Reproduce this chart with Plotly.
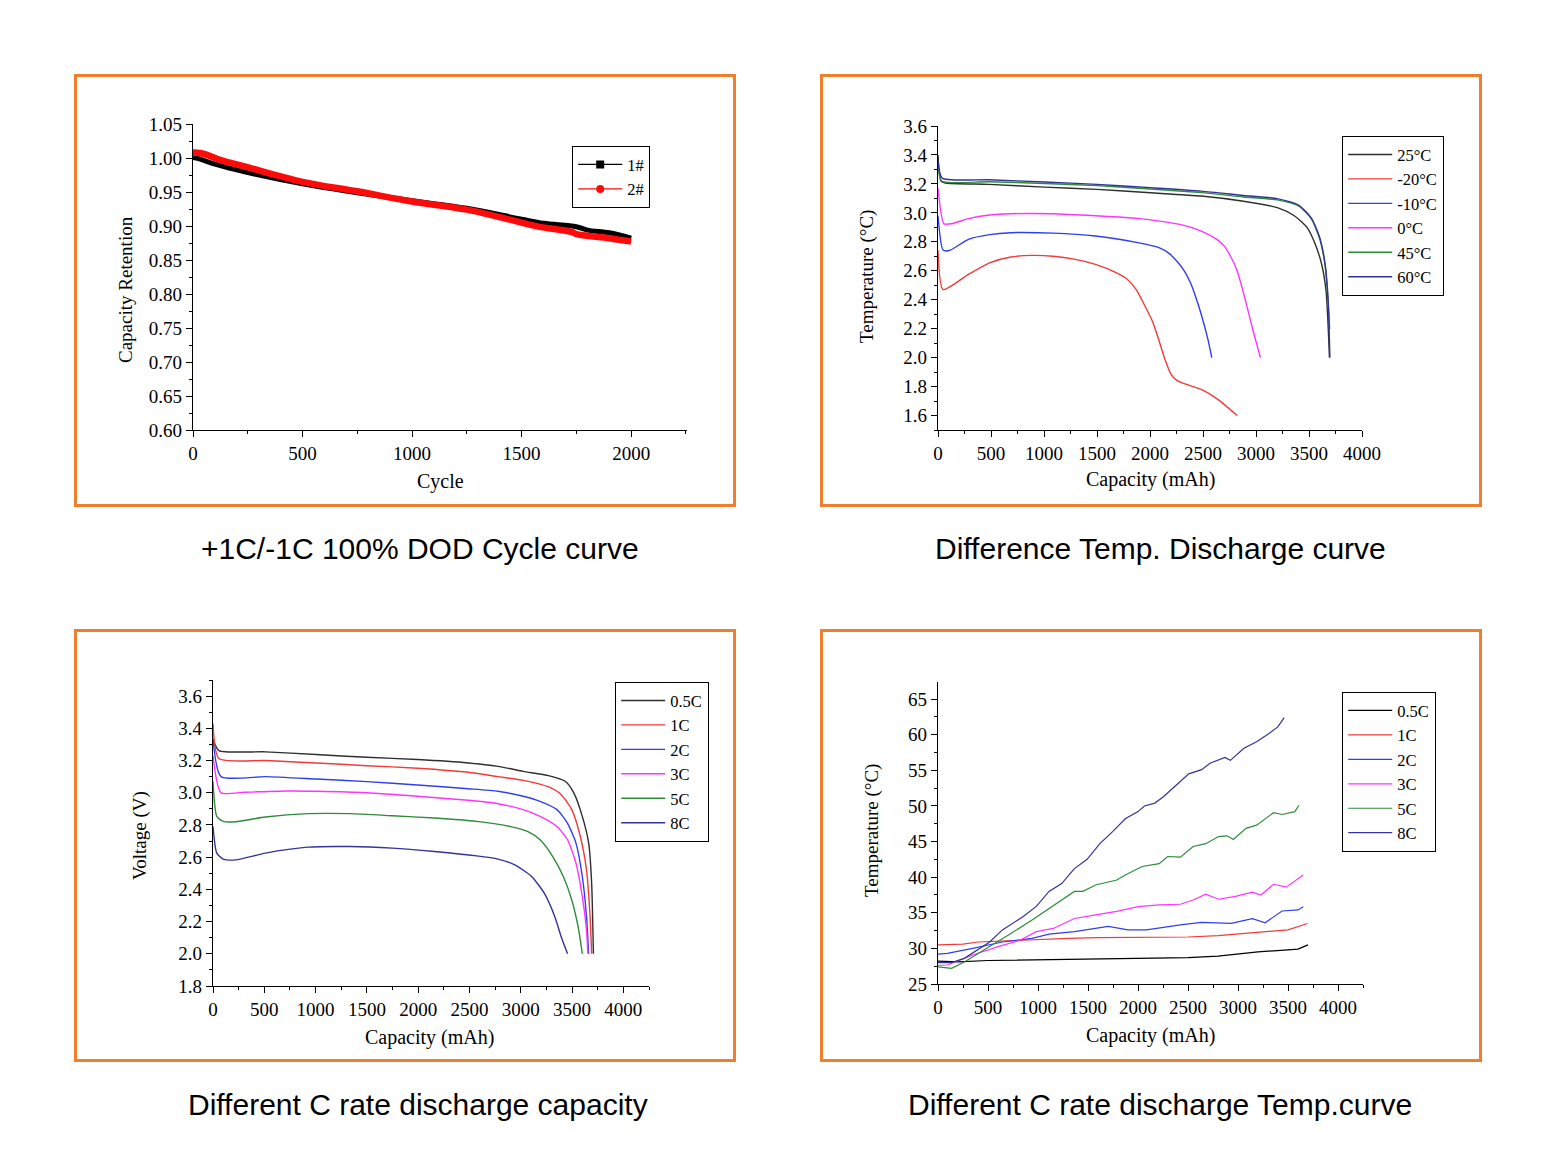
import plotly.graph_objects as go

W, H = 1562, 1173

# ---------------- Panel 1: cycle curve ----------------
cyc_1 = [0, 25, 100, 231, 500, 750, 1000, 1250, 1500, 1600, 1750, 1800, 1900, 2000]
ret_1 = [1.001, 0.999, 0.991, 0.980, 0.962, 0.949, 0.937, 0.926, 0.910, 0.904, 0.899, 0.894, 0.890, 0.882]
cyc_2 = [0, 38, 135, 231, 500, 750, 1000, 1250, 1500, 1577, 1731, 1750, 1900, 2000]
ret_2 = [1.008, 1.007, 0.996, 0.988, 0.965, 0.951, 0.936, 0.924, 0.905, 0.899, 0.891, 0.888, 0.882, 0.877]

# ---------------- Panel 2: temperature discharge ----------------
t25_x = [0, 28, 70, 480, 1006, 1500, 2004, 2483, 2882, 3201, 3361, 3481, 3561, 3621, 3661, 3681, 3693]
t25_y = [3.40, 3.22, 3.206, 3.197, 3.178, 3.162, 3.139, 3.116, 3.080, 3.036, 2.980, 2.900, 2.780, 2.640, 2.460, 2.210, 2.000]
tm20_x = [0, 48, 287, 487, 687, 886, 1086, 1285, 1485, 1685, 1780, 1870, 1950, 2024, 2084, 2140, 2196, 2250, 2323, 2483, 2643, 2822]
tm20_y = [2.74, 2.47, 2.575, 2.655, 2.695, 2.706, 2.700, 2.680, 2.644, 2.586, 2.545, 2.470, 2.360, 2.250, 2.120, 1.990, 1.888, 1.845, 1.820, 1.780, 1.710, 1.600]
tm10_x = [0, 48, 108, 287, 487, 687, 1086, 1485, 1884, 2084, 2180, 2260, 2323, 2380, 2440, 2483, 2543, 2583]
tm10_y = [2.98, 2.743, 2.740, 2.817, 2.850, 2.863, 2.860, 2.840, 2.794, 2.760, 2.720, 2.660, 2.600, 2.520, 2.400, 2.300, 2.137, 2.000]
t0_x = [0, 56, 128, 287, 487, 687, 1086, 1485, 1884, 2283, 2483, 2623, 2700, 2760, 2822, 2870, 2902, 2982, 3042]
t0_y = [3.17, 2.925, 2.925, 2.960, 2.985, 2.994, 2.994, 2.980, 2.962, 2.920, 2.874, 2.820, 2.770, 2.700, 2.600, 2.480, 2.390, 2.160, 2.000]
t45_x = [0, 35, 480, 1006, 1500, 2004, 2483, 2882, 3201, 3401, 3521, 3601, 3653, 3681, 3695]
t45_y = [3.34, 3.22, 3.215, 3.203, 3.188, 3.165, 3.140, 3.110, 3.090, 3.048, 2.960, 2.820, 2.630, 2.380, 2.200]
t60_x = [0, 40, 480, 1006, 1500, 2004, 2483, 2882, 3201, 3401, 3521, 3601, 3653, 3681, 3697]
t60_y = [3.36, 3.24, 3.229, 3.213, 3.197, 3.174, 3.150, 3.120, 3.098, 3.054, 2.966, 2.830, 2.640, 2.390, 2.000]

# ---------------- Panel 3: C-rate discharge voltage ----------------
c05_x = [0, 58, 511, 1005, 1500, 1994, 2488, 2777, 3024, 3271, 3436, 3518, 3600, 3662, 3691, 3708]
c05_y = [3.33, 3.262, 3.254, 3.237, 3.220, 3.206, 3.185, 3.164, 3.133, 3.106, 3.070, 2.998, 2.853, 2.687, 2.438, 2.000]
c1_x = [0, 58, 511, 1005, 1500, 1994, 2488, 2777, 3024, 3271, 3394, 3497, 3580, 3641, 3674, 3691]
c1_y = [3.43, 3.212, 3.200, 3.185, 3.168, 3.152, 3.127, 3.100, 3.077, 3.036, 2.988, 2.895, 2.730, 2.520, 2.250, 2.000]
c2_x = [0, 78, 511, 1005, 1500, 1994, 2488, 2777, 3024, 3188, 3353, 3456, 3538, 3600, 3641, 3662]
c2_y = [3.334, 3.100, 3.100, 3.085, 3.069, 3.048, 3.025, 3.009, 2.978, 2.946, 2.895, 2.810, 2.687, 2.480, 2.230, 2.000]
c3_x = [0, 78, 305, 717, 1005, 1500, 1994, 2488, 2777, 3024, 3188, 3353, 3456, 3538, 3600, 3641, 3654]
c3_y = [3.227, 3.000, 3.003, 3.011, 3.009, 3.000, 2.978, 2.953, 2.932, 2.895, 2.853, 2.790, 2.708, 2.563, 2.355, 2.148, 2.000]
c5_x = [0, 37, 99, 222, 511, 923, 1335, 1747, 2158, 2570, 2900, 3065, 3188, 3312, 3415, 3497, 3559, 3600]
c5_y = [3.07, 2.853, 2.822, 2.820, 2.849, 2.870, 2.870, 2.857, 2.843, 2.822, 2.790, 2.760, 2.708, 2.604, 2.480, 2.334, 2.168, 2.000]
c8_x = [0, 37, 99, 222, 511, 923, 1335, 1747, 2158, 2570, 2777, 2941, 3106, 3229, 3332, 3394, 3456]
c8_y = [2.79, 2.625, 2.588, 2.583, 2.625, 2.662, 2.666, 2.656, 2.635, 2.608, 2.588, 2.552, 2.480, 2.376, 2.230, 2.106, 2.000]

# ---------------- Panel 4: C-rate discharge temperature ----------------
h05_x = [0, 200, 500, 1000, 1500, 2000, 2500, 2800, 3000, 3200, 3500, 3600, 3700]
h05_y = [28.2, 28.1, 28.3, 28.4, 28.5, 28.5, 28.7, 28.9, 29.2, 29.5, 29.8, 29.9, 30.5]
h1_x = [0, 250, 400, 700, 1000, 1300, 1600, 2000, 2500, 2800, 3000, 3300, 3500, 3695]
h1_y = [30.5, 30.6, 30.9, 31.1, 31.3, 31.4, 31.5, 31.5, 31.6, 31.8, 32.0, 32.3, 32.6, 33.5]
h2_x = [0, 93, 347, 644, 941, 1110, 1364, 1703, 1900, 2085, 2424, 2635, 2932, 3144, 3271, 3441, 3600, 3652]
h2_y = [29.2, 29.3, 30.0, 30.9, 31.4, 32.0, 32.35, 33.1, 32.6, 32.6, 33.3, 33.66, 33.5, 34.17, 33.6, 35.25, 35.4, 35.86]
h3_x = [0, 93, 347, 601, 814, 983, 1153, 1364, 1576, 1788, 2000, 2212, 2424, 2551, 2678, 2805, 2975, 3144, 3229, 3356, 3483, 3589, 3653]
h3_y = [27.6, 27.67, 29.07, 30.24, 31.1, 32.35, 32.8, 34.2, 34.7, 35.2, 35.86, 36.1, 36.2, 36.8, 37.6, 36.9, 37.3, 37.9, 37.5, 39.0, 38.6, 39.7, 40.3]
h5_x = [0, 136, 263, 517, 729, 941, 1110, 1195, 1364, 1449, 1576, 1788, 1873, 2042, 2212, 2297, 2424, 2551, 2678, 2805, 2890, 2953, 3081, 3186, 3356, 3441, 3568, 3610]
h5_y = [27.4, 27.2, 28.1, 30.24, 32.1, 34.0, 35.6, 36.3, 38.0, 38.0, 38.9, 39.6, 40.3, 41.5, 41.9, 42.9, 42.8, 44.3, 44.7, 45.7, 45.8, 45.3, 46.85, 47.3, 49.05, 48.8, 49.2, 50.1]
h8_x = [0, 136, 263, 517, 644, 856, 983, 1110, 1237, 1364, 1491, 1619, 1746, 1873, 2000, 2064, 2169, 2254, 2381, 2508, 2636, 2720, 2869, 2924, 3059, 3186, 3314, 3398, 3462]
h8_y = [28.0, 28.0, 28.6, 30.9, 32.6, 34.5, 35.9, 38.0, 39.1, 41.2, 42.5, 44.7, 46.4, 48.2, 49.2, 50.0, 50.4, 51.3, 52.9, 54.5, 55.1, 56.0, 56.8, 56.4, 58.1, 59.0, 60.2, 61.1, 62.4]

temp_names = ["25°C", "-20°C", "-10°C", "0°C", "45°C", "60°C"]
rate_names = ["0.5C", "1C", "2C", "3C", "5C", "8C"]
captions = ["+1C/-1C 100% DOD Cycle curve", "Difference Temp. Discharge curve",
            "Different C rate discharge capacity", "Different C rate discharge Temp.curve"]

SERIF = "Liberation Serif, Times New Roman, serif"
SANS = "Liberation Sans, Arial, sans-serif"
C_BLACK = "#2f2f2f"
C_RED = "#f23a3a"
C_BLUE = "#2f3ff0"
C_MAG = "#ff33ff"
C_GREEN = "#2e8b3a"
C_NAVY = "#333399"
ORANGE = "#ef7f2c"


def px(x):
    return x / W


def py(y):
    return 1 - y / H


fig = go.Figure()

# Panel 1 traces (thick dense-marker look)
fig.add_trace(go.Scatter(x=cyc_1, y=ret_1, mode="lines", line=dict(color="black", width=5, shape="spline"),
                         xaxis="x", yaxis="y", showlegend=False))
fig.add_trace(go.Scatter(x=cyc_2, y=ret_2, mode="lines", line=dict(color="#ff0a0a", width=6.5, shape="spline"),
                         xaxis="x", yaxis="y", showlegend=False))
fig.add_trace(go.Scatter(x=[None], y=[None], mode="lines+markers", name="1#",
                         line=dict(color="black", width=1.2), marker=dict(symbol="square", size=8, color="black"),
                         xaxis="x", yaxis="y", legend="legend"))
fig.add_trace(go.Scatter(x=[None], y=[None], mode="lines+markers", name="2#",
                         line=dict(color="#ff0a0a", width=1.2), marker=dict(symbol="circle", size=8, color="#ff0a0a"),
                         xaxis="x", yaxis="y", legend="legend"))

temp_data = [(t25_x, t25_y, C_BLACK), (tm20_x, tm20_y, C_RED), (tm10_x, tm10_y, C_BLUE),
             (t0_x, t0_y, C_MAG), (t45_x, t45_y, C_GREEN), (t60_x, t60_y, C_NAVY)]
for name, (xs, ys, c) in zip(temp_names, temp_data):
    fig.add_trace(go.Scatter(x=xs, y=ys, mode="lines", name=name,
                             line=dict(color=c, width=1.4, shape="spline", smoothing=0.6),
                             xaxis="x2", yaxis="y2", legend="legend2"))

rate_data = [(c05_x, c05_y, C_BLACK), (c1_x, c1_y, C_RED), (c2_x, c2_y, C_BLUE),
             (c3_x, c3_y, C_MAG), (c5_x, c5_y, C_GREEN), (c8_x, c8_y, C_NAVY)]
for name, (xs, ys, c) in zip(rate_names, rate_data):
    fig.add_trace(go.Scatter(x=xs, y=ys, mode="lines", name=name,
                             line=dict(color=c, width=1.4, shape="spline", smoothing=0.6),
                             xaxis="x3", yaxis="y3", legend="legend3"))

heat_data = [(h05_x, h05_y, "black"), (h1_x, h1_y, C_RED), (h2_x, h2_y, C_BLUE),
             (h3_x, h3_y, C_MAG), (h5_x, h5_y, C_GREEN), (h8_x, h8_y, C_NAVY)]
for name, (xs, ys, c) in zip(rate_names, heat_data):
    fig.add_trace(go.Scatter(x=xs, y=ys, mode="lines", name=name, line=dict(color=c, width=1.2),
                             xaxis="x4", yaxis="y4", legend="legend4"))


def axis(domain, rng, dtick, mdtick, tick0=0, fmt=None, anchor=None):
    d = dict(domain=domain, range=rng, dtick=dtick, tick0=tick0, automargin=False,
             showline=True, linecolor="black", linewidth=1.3, ticks="outside", ticklen=6,
             tickcolor="black", tickwidth=1, showgrid=False, zeroline=False,
             tickfont=dict(family=SERIF, size=19, color="black"),
             minor=dict(ticks="outside", ticklen=3, dtick=mdtick, tickcolor="black", showgrid=False),
             anchor=anchor, fixedrange=True)
    if fmt:
        d["tickformat"] = fmt
    return d


# plot-area pixel boxes (left, right, top, bottom)
b1 = (193, 687, 124, 430)
b2 = (938, 1362, 126, 430)
b3 = (213, 649, 680, 986)
b4 = (938, 1363, 682, 984)


def dom_x(b):
    return [px(b[0]), px(b[1])]


def dom_y(b):
    return [py(b[3]), py(b[2])]


layout = dict(
    width=W, height=H, autosize=False, margin=dict(l=0, r=0, t=0, b=0, pad=0),
    paper_bgcolor="white", plot_bgcolor="white",
    xaxis=axis(dom_x(b1), [0, 2255], 500, 250, anchor="y"),
    yaxis=axis(dom_y(b1), [0.60, 1.05], 0.05, 0.025, tick0=0.6, fmt=".2f", anchor="x"),
    xaxis2=axis(dom_x(b2), [0, 4000], 500, 250, anchor="y2"),
    yaxis2=axis(dom_y(b2), [1.5, 3.6], 0.2, 0.1, tick0=1.6, fmt=".1f", anchor="x2"),
    xaxis3=axis(dom_x(b3), [0, 4250], 500, 250, anchor="y3"),
    yaxis3=axis(dom_y(b3), [1.8, 3.7], 0.2, 0.1, tick0=1.8, fmt=".1f", anchor="x3"),
    xaxis4=axis(dom_x(b4), [0, 4250], 500, 250, anchor="y4"),
    yaxis4=axis(dom_y(b4), [25, 67.4], 5, 2.5, tick0=25, anchor="x4"),
)


def leg(x0, y0):
    return dict(x=px(x0), y=py(y0), xanchor="left", yanchor="top", bgcolor="white",
                bordercolor="black", borderwidth=1.2, font=dict(family=SERIF, size=16.5, color="black"),
                itemwidth=44, tracegroupgap=0)


layout["legend"] = leg(572, 146)
layout["legend2"] = leg(1342, 136)
layout["legend3"] = leg(615, 682)
layout["legend4"] = leg(1342, 692)

fig.update_layout(**layout)

# Orange frames
for (x0, y0, x1, y1) in [(74, 74, 736, 507), (820, 74, 1482, 507), (74, 629, 736, 1062), (820, 629, 1482, 1062)]:
    fig.add_shape(type="rect", xref="paper", yref="paper",
                  x0=px(x0 + 1.5), x1=px(x1 - 1.5), y0=py(y1 - 1.5), y1=py(y0 + 1.5),
                  line=dict(color=ORANGE, width=3), layer="below")

# Axis titles
titles = [
    ("Cycle", 440, 481, 0, 20), ("Capacity Retention", 126, 290, -90, 19),
    ("Capacity (mAh)", 1150, 480, 0, 20), ("Temperature (°C)", 867, 277, -90, 19),
    ("Capacity (mAh)", 430, 1037, 0, 20), ("Voltage (V)", 140, 836, -90, 19),
    ("Capacity (mAh)", 1150, 1035, 0, 20), ("Temperature (°C)", 872, 831, -90, 19),
]
for t, x, y, ang, fs in titles:
    fig.add_annotation(text=t, x=px(x), y=py(y), xref="paper", yref="paper", showarrow=False,
                       textangle=ang, xanchor="center", yanchor="middle",
                       font=dict(family=SERIF, size=fs, color="black"))

# Captions
for t, x, y in zip(captions, [420, 1160, 418, 1160], [549, 549, 1104, 1104]):
    fig.add_annotation(text=t, x=px(x), y=py(y), xref="paper", yref="paper", showarrow=False,
                       xanchor="center", yanchor="middle",
                       font=dict(family=SANS, size=30, color="black"))

fig.write_html("out.html")
